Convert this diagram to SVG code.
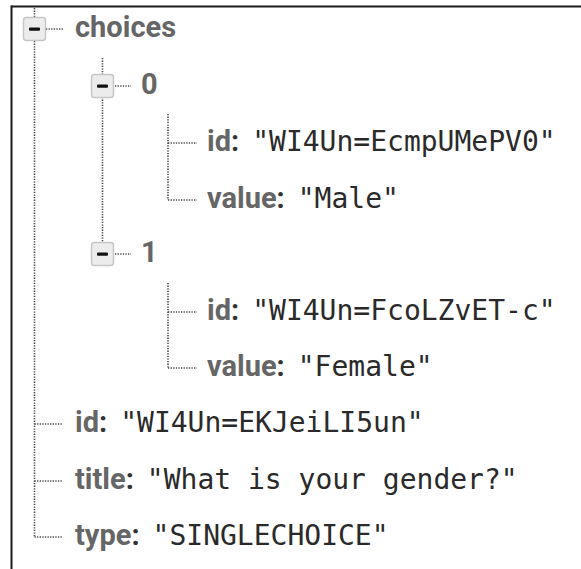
<svg xmlns="http://www.w3.org/2000/svg" width="581" height="569" viewBox="0 0 581 569">
<defs>
<style>
.frame{stroke:#1a1a1a;stroke-width:2;fill:none}
.dot{stroke:#4a4a4a;stroke-width:1.6;stroke-dasharray:1.3 1.3;fill:none}
.box{fill:#ececec;stroke:#c6c6c6;stroke-width:1.5}
.minus{fill:#111}
text{font-size:29px}
.k{font-family:Roboto,"Liberation Sans",sans-serif;font-weight:bold;fill:#666}
.p{font-family:Roboto,"Liberation Sans",sans-serif;font-weight:bold;fill:#333}
.v{font-family:"DejaVu Sans Mono","Liberation Mono",monospace;font-size:28px;fill:#2a2a2a}
</style>
</defs>
<rect width="581" height="569" fill="#fff"/>
<g id="frame">
<line class="frame" x1="11" y1="6.5" x2="581" y2="6.5"/>
<line class="frame" x1="11.5" y1="5.5" x2="11.5" y2="569"/>
</g>
<g id="connectors">
<line class="dot" x1="34.5" y1="8" x2="34.5" y2="18"/>
<line class="dot" x1="34.5" y1="41" x2="34.5" y2="537"/>
<line class="dot" x1="46" y1="29" x2="64" y2="29"/>
<line class="dot" x1="102.5" y1="58" x2="102.5" y2="74"/>
<line class="dot" x1="102.5" y1="97" x2="102.5" y2="243"/>
<line class="dot" x1="115" y1="86" x2="131" y2="86"/>
<line class="dot" x1="115" y1="254" x2="131" y2="254"/>
<line class="dot" x1="168" y1="114" x2="168" y2="200"/>
<line class="dot" x1="168" y1="143" x2="197" y2="143"/>
<line class="dot" x1="168" y1="200" x2="197" y2="200"/>
<line class="dot" x1="168" y1="283" x2="168" y2="368"/>
<line class="dot" x1="168" y1="312" x2="197" y2="312"/>
<line class="dot" x1="168" y1="368" x2="197" y2="368"/>
<line class="dot" x1="34.5" y1="424" x2="63" y2="424"/>
<line class="dot" x1="34.5" y1="481" x2="63" y2="481"/>
<line class="dot" x1="34.5" y1="537" x2="63" y2="537"/>
</g>
<g id="node-choices">
<rect class="box" x="23.5" y="17.5" width="22" height="23" rx="3"/>
<rect class="minus" x="29" y="27.5" width="11" height="3.2" rx="1"/>
<text x="75" y="37" class="k">choices</text>
</g>
<g id="node-0">
<rect class="box" x="91.5" y="74.5" width="22" height="23" rx="3"/>
<rect class="minus" x="97" y="84.5" width="11" height="3.2" rx="1"/>
<text x="141" y="94" class="k">0</text>
</g>
<g id="node-0-id">
<text x="207" y="151"><tspan class="k">id</tspan><tspan class="p">:</tspan><tspan class="v" dx="13">"WI4Un=EcmpUMePV0"</tspan></text>
</g>
<g id="node-0-value">
<text x="207" y="208"><tspan class="k">value</tspan><tspan class="p">:</tspan><tspan class="v" dx="13">"Male"</tspan></text>
</g>
<g id="node-1">
<rect class="box" x="91.5" y="242.5" width="22" height="23" rx="3"/>
<rect class="minus" x="97" y="252.5" width="11" height="3.2" rx="1"/>
<text x="141" y="262" class="k">1</text>
</g>
<g id="node-1-id">
<text x="207" y="320"><tspan class="k">id</tspan><tspan class="p">:</tspan><tspan class="v" dx="13">"WI4Un=FcoLZvET-c"</tspan></text>
</g>
<g id="node-1-value">
<text x="207" y="376"><tspan class="k">value</tspan><tspan class="p">:</tspan><tspan class="v" dx="13">"Female"</tspan></text>
</g>
<g id="node-id">
<text x="75" y="432"><tspan class="k">id</tspan><tspan class="p">:</tspan><tspan class="v" dx="13">"WI4Un=EKJeiLI5un"</tspan></text>
</g>
<g id="node-title">
<text x="75" y="489"><tspan class="k">title</tspan><tspan class="p">:</tspan><tspan class="v" dx="13">"What is your gender?"</tspan></text>
</g>
<g id="node-type">
<text x="75" y="545"><tspan class="k">type</tspan><tspan class="p">:</tspan><tspan class="v" dx="13">"SINGLECHOICE"</tspan></text>
</g>
</svg>
